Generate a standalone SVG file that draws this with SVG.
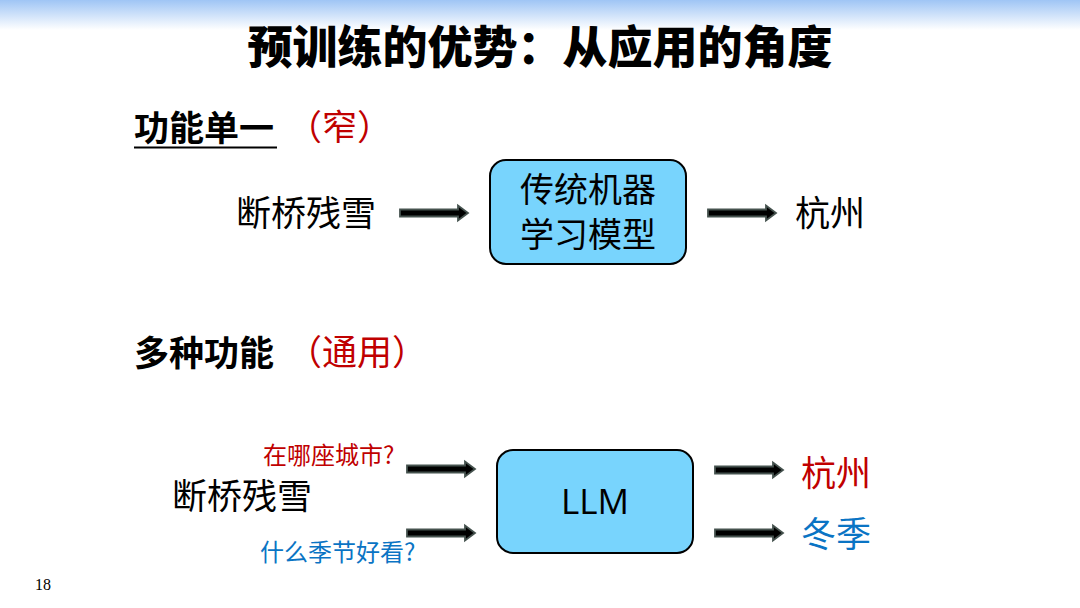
<svg xmlns="http://www.w3.org/2000/svg" width="1080" height="608" viewBox="0 0 1080 608">
<defs>
<linearGradient id="topg" x1="0" y1="0" x2="0" y2="1">
<stop offset="0" stop-color="#9fc5f5"/>
<stop offset="1" stop-color="#ffffff"/>
</linearGradient>
<path id="arr" d="M0,-3.5 H58 V-7.5 L68,0 L58,7.5 V3.5 H0 Z" fill="#000" stroke="#45524e" stroke-width="1.8" stroke-linejoin="miter"/>
<style>
.cjk{font-family:"Noto Sans CJK SC","Noto Sans",sans-serif;}
.title{font-size:45px;font-weight:900;fill:#000;}
.head{font-size:35px;font-weight:700;fill:#000;}
.txt{font-size:35px;fill:#000;}
.paren{font-size:35px;}
.small{font-size:24px;}
.cjk.red{fill:#c00000;}
.cjk.blue{fill:#0a74c4;}
.box{fill:#78d4fd;stroke:#000;stroke-width:2;}
</style>
</defs>
<rect x="0" y="0" width="1080" height="608" fill="#fff"/>
<rect x="0" y="0" width="1080" height="30" fill="url(#topg)"/>
<text class="cjk title" x="540" y="64" text-anchor="middle">预训练的优势：从应用的角度</text>

<g id="section1">
<text class="cjk head" x="134" y="141">功能单一</text>
<line x1="134" y1="147.5" x2="277" y2="147.5" stroke="#000" stroke-width="2"/>
<text class="cjk paren red" x="287" y="140">（窄）</text>
</g>

<g id="node-input1"><text class="cjk txt" x="236" y="226">断桥残雪</text></g>
<g id="node-traditional">
<rect class="box" x="490" y="160" width="196" height="104" rx="16"/>
<text class="cjk txt" x="588" y="202" text-anchor="middle" style="font-size:34px">传统机器</text>
<text class="cjk txt" x="588" y="247" text-anchor="middle" style="font-size:34px">学习模型</text>
</g>
<g id="node-out1"><text class="cjk txt" x="795" y="226">杭州</text></g>

<g id="section2">
<text class="cjk head" x="134" y="366">多种功能</text>
<text class="cjk paren red" x="287" y="365">（通用）</text>
</g>

<g id="node-q1"><text class="cjk small red" x="263" y="464">在哪座城市?</text></g>
<g id="node-input2"><text class="cjk txt" x="172" y="509">断桥残雪</text></g>
<g id="node-q2"><text class="cjk small blue" x="260" y="561">什么季节好看?</text></g>
<g id="node-llm">
<rect class="box" x="497" y="450" width="196" height="103" rx="16"/>
<text x="595" y="514" text-anchor="middle" style="font-family:'Open Sans','Noto Sans',sans-serif;font-size:35px;fill:#000">LLM</text>
</g>
<g id="node-out2"><text class="cjk txt red" x="801" y="486">杭州</text></g>
<g id="node-out3"><text class="cjk txt blue" x="801" y="547">冬季</text></g>

<g id="connectors">
<use href="#arr" x="400" y="213"/>
<use href="#arr" x="708" y="213"/>
<use href="#arr" x="407" y="469"/>
<use href="#arr" x="407" y="533"/>
<use href="#arr" x="715" y="470"/>
<use href="#arr" x="715" y="533"/>
</g>

<text x="35" y="590" style="font-family:'Liberation Serif',serif;font-size:16px;fill:#000">18</text>
</svg>
